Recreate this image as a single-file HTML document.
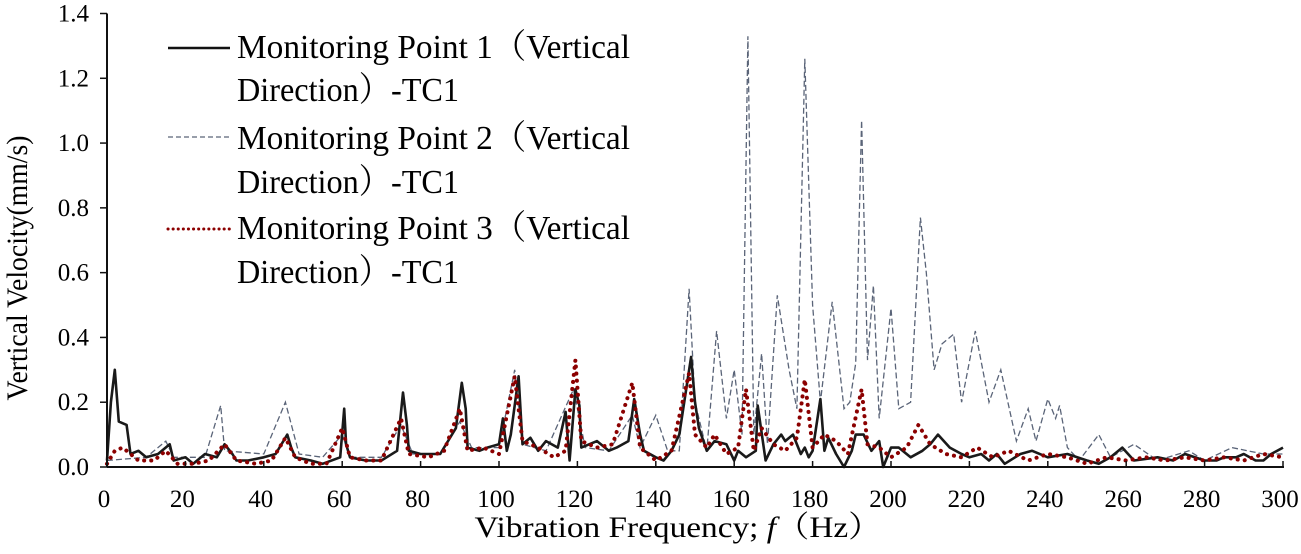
<!DOCTYPE html>
<html><head><meta charset="utf-8"><style>
html,body{margin:0;padding:0;background:#fff;}
svg{display:block;font-family:"Liberation Serif","Noto Serif CJK SC",serif;}
</style></head><body>
<svg id="chart" width="1301" height="554" viewBox="0 0 1301 554">
<g id="series-layer"></g>
<g id="axes"></g>
<g>
  <line x1="168" y1="48" x2="230" y2="48" stroke="#111" stroke-width="2.5"/>
  <text x="237" y="58" font-size="34" textLength="393" lengthAdjust="spacingAndGlyphs">Monitoring Point 1（Vertical</text>
  <text x="237" y="101" font-size="34" textLength="222" lengthAdjust="spacingAndGlyphs">Direction）-TC1</text>
  <line x1="168" y1="137" x2="230" y2="137" stroke="#5a6478" stroke-width="1.3" stroke-dasharray="5,3"/>
  <text x="237" y="149" font-size="34" textLength="393" lengthAdjust="spacingAndGlyphs">Monitoring Point 2（Vertical</text>
  <text x="237" y="193" font-size="34" textLength="222" lengthAdjust="spacingAndGlyphs">Direction）-TC1</text>
  <line x1="168" y1="229" x2="230" y2="229" stroke="#8b0000" stroke-width="3" stroke-dasharray="0.1,5" stroke-linecap="round"/>
  <text x="237" y="239" font-size="34" textLength="393" lengthAdjust="spacingAndGlyphs">Monitoring Point 3（Vertical</text>
  <text x="237" y="283" font-size="34" textLength="222" lengthAdjust="spacingAndGlyphs">Direction）-TC1</text>
</g>
<text x="27" y="268" font-size="30" text-anchor="middle" textLength="265" lengthAdjust="spacingAndGlyphs" transform="rotate(-90 27 268)">Vertical  Velocity(mm/s)</text>
<text x="678" y="537" font-size="30" text-anchor="middle" textLength="407" lengthAdjust="spacingAndGlyphs">Vibration Frequency; <tspan font-style="italic">f</tspan>（Hz）</text>
</svg>
<script>
const xTicks=[0,20,40,60,80,100,120,140,160,180,200,220,240,260,280,300];
const yTicks=[0,0.2,0.4,0.6,0.8,1.0,1.2,1.4];
const s1Freq=[0,1,2,3,5,6,8,10,13,16,17,20,22,25,28,30,32,33,36,40,43,46,47,48,52,55,59.5,60.5,61,62,66,70,74,75.5,76.5,77,80,85,89,90.5,91.5,92,95,97,100,101,102,103,105,106,108,110,112,115,117,118,119.5,120.5,121,123,125,128,130,133,134.5,136,137,140,142,144,146,149,150,151,153,155,158,160,161,163,165.5,166,168,170,172,173,175,177,178,179,180,182,183,184,186,188,190,191,193,195,197,198,200,202,205,208,210,212,215,218,220,223,225,227,229,233,236,240,245,250,253,256,259,262,268,272,275,280,283,285,288,290,293,295,297,300];
const s1Val=[0.02,0.2,0.3,0.14,0.13,0.04,0.05,0.03,0.04,0.07,0.02,0.03,0.01,0.04,0.03,0.07,0.04,0.02,0.02,0.03,0.04,0.1,0.06,0.03,0.02,0.01,0.03,0.18,0.07,0.03,0.02,0.02,0.05,0.23,0.13,0.05,0.04,0.04,0.12,0.26,0.18,0.06,0.05,0.06,0.07,0.15,0.05,0.1,0.28,0.07,0.09,0.05,0.08,0.06,0.17,0.02,0.24,0.19,0.06,0.07,0.08,0.05,0.06,0.08,0.21,0.1,0.05,0.03,0.02,0.05,0.1,0.34,0.2,0.12,0.05,0.08,0.07,0.02,0.05,0.03,0.05,0.19,0.02,0.07,0.1,0.08,0.1,0.04,0.06,0.03,0.05,0.21,0.05,0.09,0.04,0.0,0.05,0.1,0.1,0.05,0.08,0.0,0.06,0.06,0.03,0.05,0.07,0.1,0.06,0.04,0.03,0.04,0.02,0.04,0.01,0.04,0.05,0.03,0.04,0.02,0.01,0.03,0.06,0.02,0.03,0.02,0.04,0.02,0.02,0.03,0.03,0.04,0.02,0.02,0.04,0.06,0.01,0.03];
const s2Freq=[0,10,15,17,25,29,30,40,45.5,49,55,60,62,70,75,78,85,90,93,100,104,106,112,119,122,128,134,136,140,143,146,148.5,150,153,155.5,158,160,162,163.5,165,167,168.5,171,174,176,178,180,182,185,188,189.5,191,192.5,194,195.5,197,200,202,205,207.5,209,211,213,216,218,221.5,225,228,232,235,237,240,242,243,245,248,253,256,262,268,276,280,287,295,300];
const s2Val=[0.02,0.03,0.08,0.03,0.03,0.19,0.05,0.04,0.2,0.04,0.03,0.1,0.03,0.03,0.13,0.04,0.04,0.14,0.06,0.06,0.3,0.07,0.05,0.24,0.06,0.05,0.16,0.06,0.16,0.05,0.05,0.55,0.2,0.05,0.42,0.15,0.3,0.1,1.33,0.1,0.35,0.07,0.53,0.3,0.18,1.26,0.5,0.2,0.51,0.18,0.2,0.32,1.07,0.33,0.56,0.15,0.49,0.18,0.2,0.77,0.6,0.3,0.38,0.41,0.2,0.42,0.2,0.3,0.08,0.18,0.08,0.21,0.15,0.19,0.06,0.02,0.1,0.03,0.07,0.02,0.05,0.02,0.06,0.04,0.04];
const s3Freq=[0,2,4,8,12,15,18,22,26,30,33,38,42,45.5,48,52,56,60,62,66,70,75,77,82,86,90,92,96,100,104,106,110,114,117,119.5,121,125,129,134,136,140,144,148.5,150,153,155,158,161,163,165,167,170,173,176,178,180,183,186,189,192.5,194,197,200,204,207,210,214,218,222,226,230,235,240,245,250,255,260,265,270,275,280,285,290,295,300];
const s3Val=[0.01,0.05,0.06,0.02,0.02,0.05,0.01,0.01,0.02,0.07,0.02,0.01,0.02,0.09,0.03,0.01,0.01,0.12,0.03,0.02,0.02,0.15,0.04,0.03,0.05,0.18,0.05,0.06,0.04,0.28,0.08,0.06,0.03,0.05,0.33,0.08,0.06,0.07,0.26,0.06,0.02,0.05,0.29,0.1,0.06,0.1,0.04,0.06,0.24,0.05,0.12,0.07,0.05,0.09,0.27,0.06,0.1,0.08,0.04,0.24,0.07,0.06,0.03,0.06,0.13,0.07,0.04,0.03,0.06,0.03,0.05,0.02,0.04,0.03,0.01,0.03,0.02,0.03,0.02,0.03,0.02,0.03,0.02,0.04,0.03];

const NS='http://www.w3.org/2000/svg';
const X0=107,X1=1283,Y0=467,YT=13.5;
function xs(f){return X0+(f/300)*(X1-X0);}
function ys(v){return Y0-(v/1.4)*(Y0-YT);}
const layer=document.getElementById('series-layer');
const axes=document.getElementById('axes');
function mk(tag,attrs,parent){const e=document.createElementNS(NS,tag);for(const k in attrs)e.setAttribute(k,attrs[k]);parent.appendChild(e);return e;}
function path(fr,vals){return fr.map((f,i)=>(i?'L':'M')+xs(f).toFixed(1)+','+ys(vals[i]).toFixed(1)).join(' ');}

const p2=mk('path',{d:path(s2Freq,s2Val),fill:'none',stroke:'#5a6478','stroke-width':1.3,'stroke-dasharray':'6,3'},layer);


const p1=mk('path',{d:path(s1Freq,s1Val),fill:'none',stroke:'#1a1a1a','stroke-width':2.6,'stroke-linejoin':'round'},layer);


const p3=mk('path',{d:path(s3Freq,s3Val),fill:'none',stroke:'#8b0000','stroke-width':4,'stroke-dasharray':'0.1,7','stroke-linecap':'round'},layer);



const ax=mk('line',{x1:X0,y1:Y0,x2:X1+1,y2:Y0,stroke:'#111','stroke-width':2},axes);


const ay=mk('line',{x1:X0,y1:Y0,x2:X0,y2:YT,stroke:'#111','stroke-width':2},axes);


xTicks.forEach(t=>{
  const tk=mk('line',{x1:xs(t),y1:Y0,x2:xs(t),y2:Y0-6,stroke:'#111','stroke-width':1.5},axes);
  
  
  const lb=mk('text',{x:xs(t)-3,y:507,'font-size':25,'text-anchor':'middle'},axes);
  lb.textContent=String(t);
  
  
});
yTicks.forEach(t=>{
  const tk=mk('line',{x1:X0-7,y1:ys(t),x2:X0,y2:ys(t),stroke:'#111','stroke-width':1.5},axes);
  
  
  const lb=mk('text',{x:89,y:ys(t)+8,'font-size':25,'text-anchor':'end'},axes);
  lb.textContent=t.toFixed(1);
  
  
});
</script>
</body></html>
